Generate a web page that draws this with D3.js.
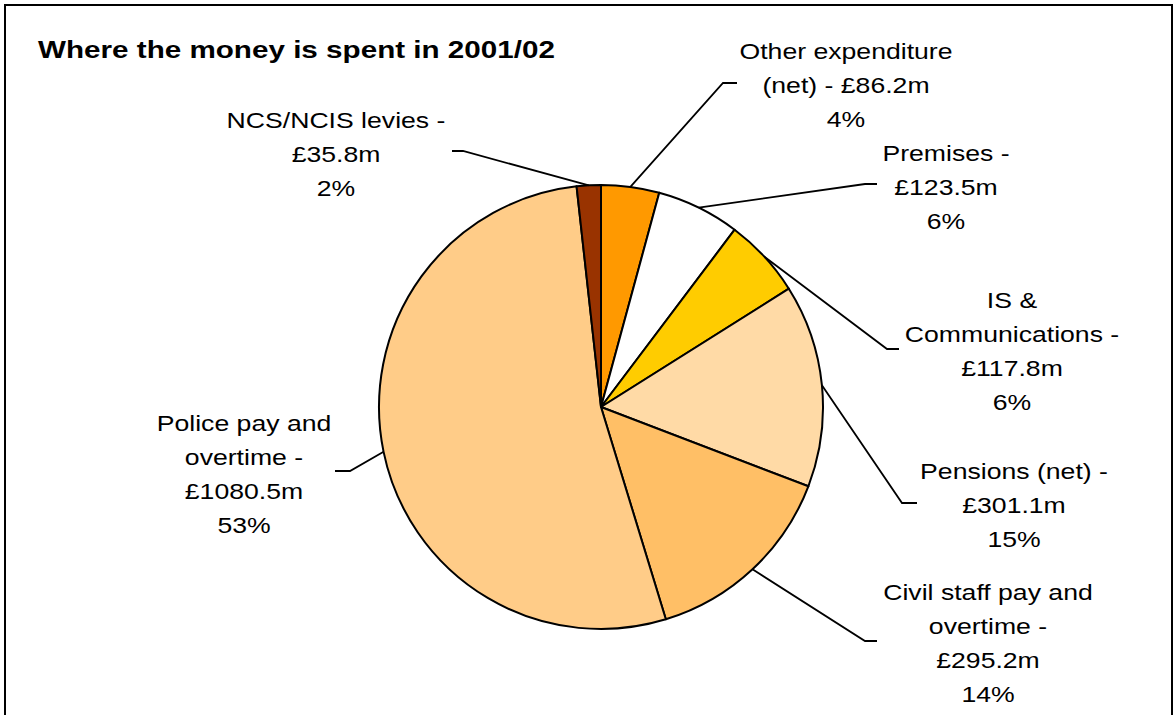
<!DOCTYPE html>
<html>
<head>
<meta charset="utf-8">
<script src="https://cdn.jsdelivr.net/npm/d3@7"></script>
<style>
  html, body { margin: 0; padding: 0; background: #fff; }
  svg { display: block; }
  text { font-family: "Liberation Sans", Arial, sans-serif; fill: #000; }
</style>
</head>
<body>
<svg id="chart" width="1174" height="715"></svg>
<script>
// Spending categories, clockwise from 12 o'clock
const categories = [
  "Other expenditure (net)",
  "Premises",
  "IS & Communications",
  "Pensions (net)",
  "Civil staff pay and overtime",
  "Police pay and overtime",
  "NCS/NCIS levies"
];
const values = [86.2, 123.5, 117.8, 301.1, 295.2, 1080.5, 35.8]; // £m
const percents = [4, 6, 6, 15, 14, 53, 2];
const colors = ["#FF9900", "#FFFFFF", "#FFCC00", "#FFDAA6", "#FFBF66", "#FFCC88", "#993300"];

// Wrapped label lines (value line and percent line are appended)
const labelLines = [
  ["Other expenditure", "(net) - £86.2m"],
  ["Premises -", "£123.5m"],
  ["IS &", "Communications -", "£117.8m"],
  ["Pensions (net) -", "£301.1m"],
  ["Civil staff pay and", "overtime -", "£295.2m"],
  ["Police pay and", "overtime -", "£1080.5m"],
  ["NCS/NCIS levies -", "£35.8m"]
];

const W = 1174, H = 715;
const cx = 601, cy = 407, R = 222;
const fontSize = 22, stretch = 1.21, lineGap = 34;

// Label placement: text centre x, first baseline y, leader elbow and leader end
const labelLayout = [
  { x: 846, y: 59,  elbow: [723, 83],  end: [737, 83] },
  { x: 946, y: 161, elbow: [865, 184], end: [877, 184] },
  { x: 1012, y: 308, elbow: [887, 349], end: [899, 349] },
  { x: 1014, y: 479, elbow: [902, 503], end: [917, 503] },
  { x: 988, y: 600, elbow: [865, 641], end: [877, 641] },
  { x: 244, y: 431, elbow: [350, 471], end: [335, 471] },
  { x: 336, y: 128, elbow: [463, 151], end: [452, 151] }
];

const svg = d3.select("#chart");

// Frame
svg.append("path")
  .attr("d", `M5,${H + 5} L5,5 L1172,5 L1172,${H + 5}`)
  .attr("fill", "none")
  .attr("stroke", "#000")
  .attr("stroke-width", 2);

// Title
svg.append("text")
  .attr("transform", `translate(38,58) scale(1.235,1)`)
  .attr("font-size", 24)
  .attr("font-weight", "bold")
  .text("Where the money is spent in 2001/02");

const data = categories.map((c, i) => ({ name: c, value: values[i], pct: percents[i], color: colors[i], i }));

const pie = d3.pie().sort(null).value(d => d.value).startAngle(0).endAngle(2 * Math.PI);
const arcs = pie(data);
const arc = d3.arc().innerRadius(0).outerRadius(R);

const g = svg.append("g").attr("transform", `translate(${cx},${cy})`);

g.selectAll("path.slice")
  .data(arcs)
  .join("path")
  .attr("class", "slice")
  .attr("d", arc)
  .attr("fill", d => d.data.color)
  .attr("stroke", "#000")
  .attr("stroke-width", 2)
  .attr("stroke-linejoin", "round");

// Leader lines from slice mid-angle on the rim
svg.selectAll("polyline.leader")
  .data(arcs)
  .join("polyline")
  .attr("class", "leader")
  .attr("fill", "none")
  .attr("stroke", "#000")
  .attr("stroke-width", 1.8)
  .attr("points", d => {
    const a = (d.startAngle + d.endAngle) / 2;
    const sx = cx + R * Math.sin(a), sy = cy - R * Math.cos(a);
    const L = labelLayout[d.data.i];
    return [[sx, sy], L.elbow, L.end].map(p => p.join(",")).join(" ");
  });

// Labels
const labels = svg.selectAll("g.label")
  .data(arcs)
  .join("g")
  .attr("class", "label")
  .attr("transform", d => {
    const L = labelLayout[d.data.i];
    return `translate(${L.x},${L.y}) scale(${stretch},1)`;
  });

labels.each(function(d) {
  const lines = labelLines[d.data.i].concat([d.data.pct + "%"]);
  const t = d3.select(this).append("text")
    .attr("text-anchor", "middle")
    .attr("font-size", fontSize);
  lines.forEach((ln, k) => {
    t.append("tspan").attr("x", 0).attr("y", k * lineGap).text(ln);
  });
});
</script>
</body>
</html>
